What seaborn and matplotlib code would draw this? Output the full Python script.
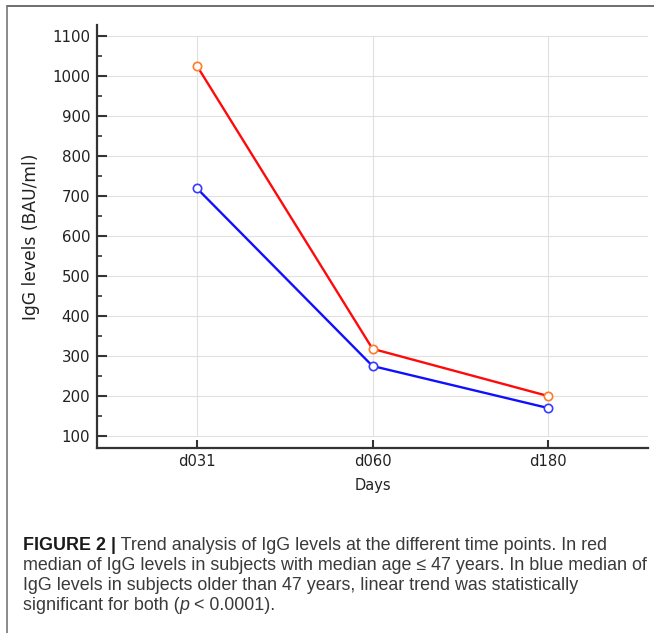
import matplotlib
matplotlib.use('Agg')
import matplotlib.pyplot as plt
from matplotlib.lines import Line2D
from matplotlib.ticker import MultipleLocator
import pandas as pd
import seaborn as sns

# data (median IgG, BAU/ml)
days = ['d031', 'd060', 'd180']
igg_young = [1025, 318, 200]   # median age <= 47 -> red
igg_old = [719, 275, 170]      # older than 47 -> blue
y_ticks = [100, 200, 300, 400, 500, 600, 700, 800, 900, 1000, 1100]

caption = [
    [("FIGURE 2 |", 'bold'), (" Trend analysis of IgG levels at the different time points. In red", 'normal')],
    [("median of IgG levels in subjects with median age \u2264 47 years. In blue median of", 'normal')],
    [("IgG levels in subjects older than 47 years, linear trend was statistically", 'normal')],
    [("significant for both (", 'normal'), ("p", 'italic'), (" < 0.0001).", 'normal')],
]

W, H = 654, 633
sns.set_style('white')
plt.rcParams['font.family'] = ['DejaVu Sans']

fig = plt.figure(figsize=(W / 100, H / 100), dpi=100)
ax = fig.add_axes([97 / W, 1 - 447.5 / H, (648 - 97) / W, (447.5 - 25) / H])

df = pd.DataFrame({'day': days * 2,
                   'igg': igg_young + igg_old,
                   'group': ['young'] * 3 + ['old'] * 3})

sns.lineplot(data=df[df.group == 'old'], x='day', y='igg', ax=ax, color='#1010ff',
             lw=1.7, marker='o', markersize=6, markerfacecolor='white',
             markeredgecolor='#3a3aff', markeredgewidth=1.2, zorder=3)
sns.lineplot(data=df[df.group == 'young'], x='day', y='igg', ax=ax, color='#ff0a0a',
             lw=1.7, marker='o', markersize=6, markerfacecolor='white',
             markeredgecolor='#ff7a2a', markeredgewidth=1.2, zorder=3)

ax.set_xlim(-0.57, 2.57)
ax.set_ylim(71.25, 1127.5)
ax.set_yticks(y_ticks)
ax.yaxis.set_minor_locator(MultipleLocator(50))

# grid: horizontal full width, vertical only between first and last tick
for v in y_ticks:
    ax.axhline(v, color='#e0e0e0', lw=0.8, zorder=0)
ax.vlines(range(len(days)), y_ticks[0], y_ticks[-1], color='#e0e0e0', lw=0.8, zorder=0)

for s in ['top', 'right']:
    ax.spines[s].set_visible(False)
for s in ['left', 'bottom']:
    ax.spines[s].set_color('#333333')
    ax.spines[s].set_linewidth(1.6)

ax.tick_params(left=True, bottom=True, which='both')
ax.tick_params(axis='y', which='major', direction='in', length=7.5, width=1.5,
               color='#333333', labelsize=10.8, pad=5, labelcolor='#222222')
ax.tick_params(axis='y', which='minor', direction='in', length=3.5, width=1.2, color='#333333')
ax.tick_params(axis='x', which='major', direction='in', length=6, width=1.5,
               color='#333333', labelsize=10.6, pad=5, labelcolor='#222222')

ax.set_xlabel('Days', fontsize=10.5, color='#222222')
ax.set_ylabel('IgG levels (BAU/ml)', fontsize=12.3, color='#222222')
ax.xaxis.set_label_coords(0.5, -0.072)
ax.yaxis.set_label_coords(-0.104, 0.5)

# frame lines (top and left) around the figure panel
fig.add_artist(Line2D([7 / W, 1], [1 - 6 / H, 1 - 6 / H], transform=fig.transFigure,
                      color='#555555', lw=1.2))
fig.add_artist(Line2D([7 / W, 7 / W], [0, 1 - 6 / H], transform=fig.transFigure,
                      color='#777777', lw=1.2))

# caption text, set with mixed styles
renderer = fig.canvas.get_renderer()
cap_font = ['Liberation Sans', 'DejaVu Sans']
probe = fig.text(0, 0, caption[1][0][0], fontsize=11, family=cap_font)
size = 11 * 623 / probe.get_window_extent(renderer).width
probe.remove()

x0, y0, dy = 22.7, 550, 20
for i, runs in enumerate(caption):
    x = x0
    for txt, style in runs:
        t = fig.text(x / W, 1 - (y0 + i * dy) / H, txt, fontsize=size, family=cap_font,
                     fontweight='bold' if style == 'bold' else 'normal',
                     fontstyle='italic' if style == 'italic' else 'normal',
                     color='#1a1a1a' if style == 'bold' else '#3a3a3a',
                     ha='left', va='baseline')
        x += t.get_window_extent(renderer).width

fig.savefig('out.png', dpi=100)
